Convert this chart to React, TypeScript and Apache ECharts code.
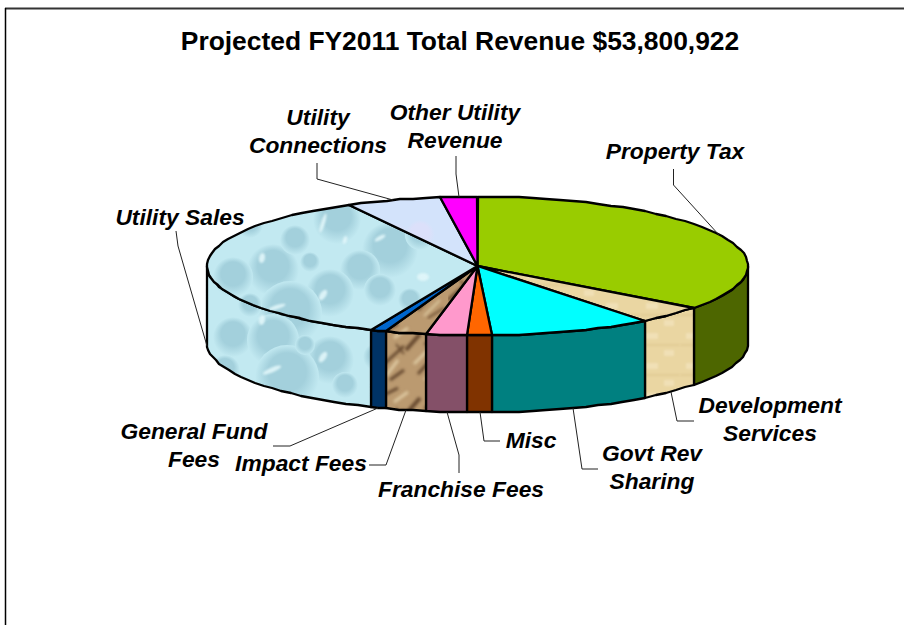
import React, { useEffect, useRef } from "react";
import * as echarts from "echarts";

const titleText = "Projected FY2011 Total Revenue $53,800,922";

// Clockwise from twelve o'clock
const categories = [
  "Property Tax",
  "Development\nServices",
  "Govt Rev\nSharing",
  "Misc",
  "Franchise Fees",
  "Impact Fees",
  "General Fund\nFees",
  "Utility Sales",
  "Utility\nConnections",
  "Other Utility\nRevenue",
];
const revenue = [
  18950000, 2230000, 5270000, 770000, 1320000, 1310000, 520000, 19190000, 3050000, 1190922,
];

const topColors = ["#99cc00", "dev", "#00ffff", "#ff6600", "#ff99cc", "marble", "#0066cc", "water", "lavender", "#ff00ff"];
const sideColors = ["#4d6600", "dev", "#008080", "#803300", "#845068", "marble", "#003366", "water", "lavender", "#800080"];

// Layout of the labels and their leaders (the leader's first point comes from the slice)
const labelCentres = [
  [675, 151], [770, 419], [652, 467], [531, 440], [461, 489], [301, 463], [194, 445], [180, 217], [318, 131], [455, 126],
];
const leaderBends = [
  [[673.5, 185], [673.5, 169]],
  [[677, 421], [694, 421]],
  [[582, 469], [598, 469]],
  [[484, 441], [500, 441]],
  [[459, 455], [459, 473]],
  [[386, 465], [369, 465]],
  [[290, 446], [273, 446]],
  [[178, 246], [176, 231]],
  [[317, 179], [317, 163]],
  [[456, 174], [456, 156]],
];

const CX = 477.5, CY = 266, RX = 270.5, RY = 69.5, DEPTH = 77;

// Hand-placed droplets of the water texture: [x, y, radius]
const droplets = [
  [273, 270, 26], [233, 277, 20], [390, 250, 28], [337, 220, 24], [360, 270, 20], [330, 293, 24],
  [380, 290, 16], [290, 313, 32], [233, 337, 20], [273, 340, 26], [330, 360, 24], [287, 377, 32],
  [377, 357, 14], [295, 240, 15], [420, 235, 15], [250, 225, 13], [345, 385, 13], [225, 370, 15],
  [310, 262, 10], [410, 300, 12], [305, 345, 10], [250, 305, 12],
];
const glints = [
  [323, 223, 2, 10, 0.3], [380, 238, 6, 2, -0.5], [262, 258, 3, 5, 0.2], [323, 295, 3, 6, 0.6], [277, 307, 9, 2, -0.3],
  [262, 320, 3, 5, 0.2], [272, 370, 10, 2.5, -0.4], [323, 357, 3, 6, 0.6], [423, 277, 6, 4, 0], [400, 320, 2, 3, 0], [345, 240, 2, 4, 0.3],
];
const marbleStreaks = [
  [2, 10, 14, 4, 3], [22, 30, 36, 14, 4], [0, 44, 20, 26, 3], [34, 54, 52, 34, 3], [6, 60, 20, 50, 3], [44, 62, 60, 52, 2], [48, 8, 60, 0, 2], [12, 24, 20, 34, 2], [40, 24, 56, 20, 2],
];
const marbleLights = [
  [10, 18, 24, 8, 3], [30, 44, 48, 26, 3], [2, 56, 14, 40, 3], [40, 60, 56, 44, 2], [50, 14, 62, 8, 2],
];

function waterCanvas(base: string, shade: string, glint: string) {
  const c = document.createElement("canvas");
  c.width = 904;
  c.height = 625;
  const g = c.getContext("2d")!;
  g.fillStyle = base;
  g.fillRect(0, 0, c.width, c.height);
  droplets.forEach(([x, y, r]) => {
    const rg = g.createRadialGradient(x, y - r * 0.35, r * 0.1, x, y, r);
    rg.addColorStop(0, shade);
    rg.addColorStop(0.55, shade);
    rg.addColorStop(1, base);
    g.fillStyle = rg;
    g.beginPath();
    g.arc(x, y, r, 0, Math.PI * 2);
    g.fill();
  });
  g.fillStyle = glint;
  g.filter = "blur(1px)";
  glints.forEach(([x, y, a, b, rot]) => {
    g.beginPath();
    g.ellipse(x, y, a, b, rot, 0, Math.PI * 2);
    g.fill();
  });
  return c;
}

function marbleCanvas() {
  const c = document.createElement("canvas");
  c.width = 64;
  c.height = 64;
  const g = c.getContext("2d")!;
  g.fillStyle = "#bb9a70";
  g.fillRect(0, 0, 64, 64);
  g.filter = "blur(1.5px)";
  g.strokeStyle = "#66492f";
  marbleStreaks.forEach(([a, b, d, e, w]) => {
    g.lineWidth = w;
    g.beginPath();
    g.moveTo(a, b);
    g.lineTo(d, e);
    g.stroke();
  });
  g.strokeStyle = "#ddc8a0";
  marbleLights.forEach(([a, b, d, e, w]) => {
    g.lineWidth = w;
    g.beginPath();
    g.moveTo(a, b);
    g.lineTo(d, e);
    g.stroke();
  });
  return c;
}

function devCanvas() {
  const c = document.createElement("canvas");
  c.width = 40;
  c.height = 30;
  const g = c.getContext("2d")!;
  g.fillStyle = "#ead6a2";
  g.fillRect(0, 0, 40, 30);
  g.filter = "blur(1px)";
  g.fillStyle = "#e2cc96";
  g.fillRect(0, 14, 40, 2);
  g.fillStyle = "#f0e0b6";
  g.fillRect(6, 3, 12, 6);
  g.fillRect(24, 20, 10, 6);
  return c;
}

function rim(t: number, drop: number) {
  const a = (t * Math.PI) / 180;
  return [Math.round(CX + RX * Math.sin(a)), Math.round(CY - RY * Math.cos(a) + drop)];
}

function arcPoints(t0: number, t1: number, drop: number) {
  const pts: number[][] = [];
  const n = Math.max(1, Math.ceil((t1 - t0) / 3));
  for (let i = 0; i <= n; i++) pts.push(rim(t0 + ((t1 - t0) * i) / n, drop));
  return pts;
}

export default function App() {
  const ref = useRef<HTMLDivElement>(null);
  useEffect(() => {
    const chart = echarts.init(ref.current!, undefined, { renderer: "svg" });
    const textures: Record<string, any> = {
      water: { image: waterCanvas("#c2e9f1", "#a3d0dc", "rgba(225,246,250,0.9)"), repeat: "repeat" },
      lavender: { image: waterCanvas("#d3e3fb", "#dce0fa", "rgba(225,235,252,0.6)"), repeat: "repeat" },
      marble: { image: marbleCanvas(), repeat: "repeat" },
      dev: { image: devCanvas(), repeat: "repeat" },
    };
    const paint = (name: string) => textures[name] || name;
    const total = revenue.reduce((s, v) => s + v, 0);
    const starts: number[] = [];
    revenue.reduce((s, v, i) => {
      starts[i] = (s / total) * 360;
      return s + v;
    }, 0);
    const span = (i: number) => [starts[i], starts[i] + (revenue[i] / total) * 360];
    const line = { stroke: "#000", lineWidth: 2.3, lineJoin: "round" as const };

    const data = revenue.map((value, i) => ({ value, name: categories[i] }));

    chart.setOption({
      animation: false,
      backgroundColor: "#fff",
      title: {
        text: titleText,
        left: 455,
        top: 23,
        textAlign: "center",
        textStyle: { fontFamily: "Liberation Sans", fontWeight: "bold", fontSize: 26.4, color: "#000" },
      },
      graphic: [
        { type: "line", shape: { x1: 5, y1: 8.5, x2: 904, y2: 8.5 }, style: { stroke: "#333", lineWidth: 2 } },
        { type: "line", shape: { x1: 5.5, y1: 8, x2: 5.5, y2: 625 }, style: { stroke: "#000", lineWidth: 1.5 } },
      ],
      series: [
        {
          type: "custom",
          coordinateSystem: "none",
          data,
          renderItem: (p: any) => {
            const [a, b] = span(p.dataIndex);
            const t0 = Math.max(a, 90), t1 = Math.min(b, 270);
            if (t1 <= t0) return { type: "group", children: [] };
            const points = [...arcPoints(t0, t1, 0), ...arcPoints(t0, t1, DEPTH).reverse()];
            return { type: "polygon", shape: { points }, style: { fill: paint(sideColors[p.dataIndex]), ...line } };
          },
        },
        {
          type: "custom",
          coordinateSystem: "none",
          data,
          renderItem: (p: any) => {
            const [a, b] = span(p.dataIndex);
            const points = [[CX, CY], ...arcPoints(a, b, 0)];
            return { type: "polygon", shape: { points }, style: { fill: paint(topColors[p.dataIndex]), ...line } };
          },
        },
        {
          type: "custom",
          coordinateSystem: "none",
          data,
          renderItem: (p: any) => {
            const i = p.dataIndex;
            const [a, b] = span(i);
            const mid = (a + b) / 2;
            const start = rim(mid, mid > 90 && mid < 270 ? DEPTH : 0);
            const [lx, ly] = labelCentres[i];
            return {
              type: "group",
              children: [
                {
                  type: "polyline",
                  shape: { points: [start, ...leaderBends[i]] },
                  style: { stroke: "#222", lineWidth: 1, fill: "none" },
                },
                {
                  type: "text",
                  x: lx,
                  y: ly,
                  style: {
                    text: categories[i],
                    font: "italic bold 22.8px 'Liberation Sans'",
                    fill: "#000",
                    align: "center",
                    verticalAlign: "middle",
                    lineHeight: 28,
                  },
                },
              ],
            };
          },
        },
      ],
    });
    return () => chart.dispose();
  }, []);
  return <div ref={ref} style={{ position: "fixed", left: 0, top: 0, width: 904, height: 625 }} />;
}
